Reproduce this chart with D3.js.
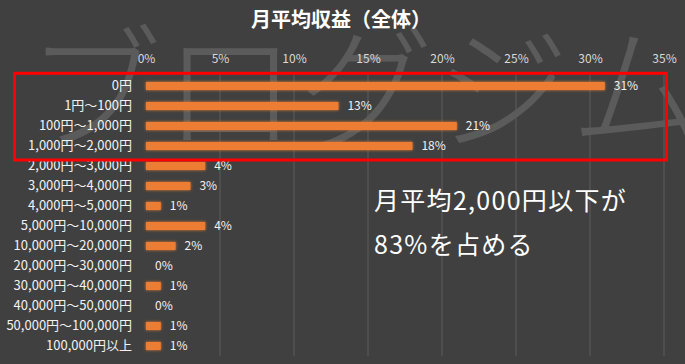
<!DOCTYPE html>
<html>
<head>
<meta charset="utf-8">
<script src="https://cdn.jsdelivr.net/npm/d3@7"></script>
<style>
  html, body { margin: 0; padding: 0; background: #404040; }
  svg { display: block; }
  text { font-family: "Noto Sans CJK JP", "Noto Sans", sans-serif; }
</style>
</head>
<body>
<svg id="chart" width="685" height="364"></svg>
<script>
const categories = [
  "0円", "1円～100円", "100円～1,000円", "1,000円～2,000円",
  "2,000円～3,000円", "3,000円～4,000円", "4,000円～5,000円",
  "5,000円～10,000円", "10,000円～20,000円", "20,000円～30,000円",
  "30,000円～40,000円", "40,000円～50,000円", "50,000円～100,000円",
  "100,000円以上"
];
const values = [0.31, 0.13, 0.21, 0.18, 0.04, 0.03, 0.01, 0.04, 0.02, 0.00, 0.01, 0.00, 0.01, 0.01];
const ticks = [0, 0.05, 0.10, 0.15, 0.20, 0.25, 0.30, 0.35];
const title = "月平均収益（全体）";
const watermark = "ブログジム";
const note = ["月平均2,000円以下が", "83%を占める"];

const W = 685, H = 364;
const svg = d3.select("#chart");

svg.append("rect").attr("width", W).attr("height", H).attr("fill", "#404040");

// glow filter
const defs = svg.append("defs");
const f = defs.append("filter").attr("id", "glow").attr("x", "-20%").attr("y", "-100%").attr("width", "140%").attr("height", "300%");
f.append("feGaussianBlur").attr("in", "SourceGraphic").attr("stdDeviation", 1.8).attr("result", "b");
const m = f.append("feMerge");
m.append("feMergeNode").attr("in", "b");
m.append("feMergeNode").attr("in", "SourceGraphic");

// watermark
svg.append("text")
  .attr("x", 26).attr("y", 140)
  .attr("font-size", 136)
  .attr("font-weight", 300)
  .attr("fill", "#ffffff")
  .attr("fill-opacity", 0.14)
  .text(watermark);

const x = d3.scaleLinear().domain([0, 0.35]).range([146, 664]);
const y = d3.scaleBand().domain(categories).range([76, 356]).paddingInner(0.6).paddingOuter(0.3);

// grid
svg.append("g").selectAll("line").data(ticks.filter(t => t > 0)).join("line")
  .attr("x1", d => x(d)).attr("x2", d => x(d))
  .attr("y1", 74).attr("y2", 356)
  .attr("stroke", "#5c5c5c").attr("stroke-width", 1);

// top axis labels
const axis = d3.axisTop(x).tickValues(ticks).tickFormat(d3.format(".0%")).tickSize(0).tickPadding(0);
const ag = svg.append("g").attr("transform", "translate(0,63)").call(axis);
ag.select(".domain").remove();
ag.selectAll("text").attr("fill", "#d9d9d9").attr("font-size", 12)
  .attr("font-family", "'Noto Sans CJK JP', sans-serif");

// category labels
const yAxis = d3.axisLeft(y).tickSize(0).tickPadding(14);
const yg = svg.append("g").attr("transform", "translate(146,0)").call(yAxis);
yg.select(".domain").remove();
yg.selectAll("text").attr("fill", "#f2f2f2").attr("font-size", 13)
  .attr("font-family", "'Noto Sans CJK JP', sans-serif");

// bars
svg.append("g").attr("filter", "url(#glow)").selectAll("rect").data(values).join("rect")
  .attr("x", x(0))
  .attr("y", (d, i) => y(categories[i]))
  .attr("width", d => x(d) - x(0))
  .attr("height", y.bandwidth())
  .attr("fill", "#ED7D31");

// value labels
svg.append("g").selectAll("text").data(values).join("text")
  .attr("x", d => x(d) + 9)
  .attr("y", (d, i) => y(categories[i]) + y.bandwidth() / 2)
  .attr("dy", "0.35em")
  .attr("font-size", 12)
  .attr("fill", "#f2f2f2")
  .text(d => d3.format(".0%")(d));

// title
svg.append("text")
  .attr("x", 341).attr("y", 27)
  .attr("text-anchor", "middle")
  .attr("font-size", 20)
  .attr("font-weight", 700)
  .attr("fill", "#ffffff")
  .text(title);

// red highlight box
svg.append("rect")
  .attr("x", 14.5).attr("y", 73.3)
  .attr("width", 652).attr("height", 86.7)
  .attr("fill", "none")
  .attr("stroke", "#ff0000")
  .attr("stroke-width", 3);

// annotation
svg.append("g").selectAll("text").data(note).join("text")
  .attr("x", 374)
  .attr("y", (d, i) => 210 + i * 44)
  .attr("font-size", 25)
  .attr("letter-spacing", 1.3)
  .attr("fill", "#ffffff")
  .text(d => d);
</script>
</body>
</html>
